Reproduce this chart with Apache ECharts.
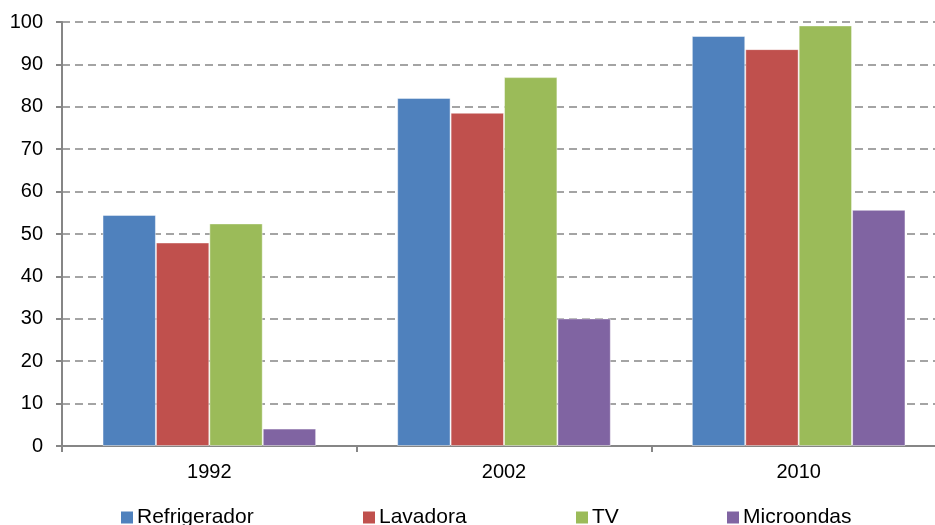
<!DOCTYPE html>
<html>
	<head>
		<meta charset="UTF-8">
		<script src="https://cdn.jsdelivr.net/npm/echarts@6/dist/echarts.min.js"></script>
		<style>
			html, body { margin: 0; padding: 0; background: #fff; }
			#chart { width: 935px; height: 525px; }
		</style>
	</head>
	<body>
		<div id="chart"></div>
		<script type="text/javascript">
			var years = ['1992', '2002', '2010'];
			var refrigerador = [54.5, 82.1, 96.7];
			var lavadora = [48.0, 78.6, 93.6];
			var tv = [52.5, 87.0, 99.2];
			var microondas = [4.1, 30.1, 55.7];
			var seriesNames = ['Refrigerador', 'Lavadora', 'TV', 'Microondas'];
			var colors = ['#4F81BD', '#C0504D', '#9BBB59', '#8064A2'];

			var font = '"Liberation Sans", Arial, sans-serif';
			var values = [refrigerador, lavadora, tv, microondas];
			var legendLeft = [121, 363, 576, 727];

			var series = seriesNames.map(function (name, i) {
				return {
					name: name,
					type: 'bar',
					data: values[i],
					barGap: '0%',
					barCategoryGap: '27.5%',
					itemStyle: {
						color: colors[i],
						borderColor: 'rgba(255,255,255,0.45)',
						borderWidth: 1
					}
				};
			});

			// Excel-style legend: each entry sits at its own spot
			var legends = seriesNames.map(function (name, i) {
				return {
					data: [name],
					left: legendLeft[i],
					top: 507,
					padding: 0,
					itemWidth: 12,
					itemHeight: 12,
					itemGap: 0,
					icon: 'rect',
					itemStyle: { borderWidth: 0 },
					textStyle: { fontFamily: font, fontSize: 21, color: '#000', padding: [0, 0, 0, -1] }
				};
			});

			var option = {
				animation: false,
				color: colors,
				legend: legends,
				grid: { left: 62, top: 22, width: 884, height: 424, outerBoundsMode: 'none' },
				xAxis: {
					type: 'category',
					data: years,
					axisLine: { lineStyle: { color: '#868686', width: 2 } },
					axisTick: { show: true, length: 6, lineStyle: { color: '#868686', width: 2 } },
					axisLabel: { fontFamily: font, fontSize: 20, color: '#000', margin: 16 }
				},
				yAxis: {
					type: 'value',
					min: 0,
					max: 100,
					interval: 10,
					axisLine: { show: true, lineStyle: { color: '#868686', width: 2 } },
					axisTick: { show: true, length: 6, lineStyle: { color: '#868686', width: 2 } },
					axisLabel: { fontFamily: font, fontSize: 20, color: '#000', margin: 19 },
					splitLine: { lineStyle: { color: '#868686', width: 1.6, type: [8, 5] } }
				},
				series: series
			};

			var chart = echarts.init(document.getElementById('chart'));
			chart.setOption(option);
		</script>
	</body>
</html>
